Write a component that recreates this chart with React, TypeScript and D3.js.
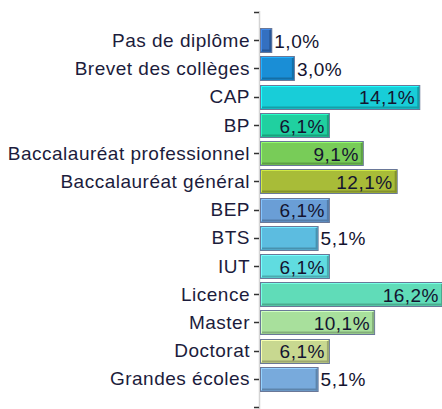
import React from "react";
import * as d3 from "d3";

const categories = [
  "Pas de diplôme",
  "Brevet des collèges",
  "CAP",
  "BP",
  "Baccalauréat professionnel",
  "Baccalauréat général",
  "BEP",
  "BTS",
  "IUT",
  "Licence",
  "Master",
  "Doctorat",
  "Grandes écoles",
];
const values = [1.0, 3.0, 14.1, 6.1, 9.1, 12.1, 6.1, 5.1, 6.1, 16.2, 10.1, 6.1, 5.1];
const colors = [
  "#3470c0", "#1a8ed6", "#18cdd8", "#20d0a0", "#78cc58", "#a8bc38", "#6a9ed6",
  "#5cbce0", "#60dce0", "#60dcb8", "#a8e09c", "#c8d890", "#78aadc",
];

const W = 442;
const H = 409;
const x0 = 260;

export default function App() {
  const x = d3.scaleLinear().domain([0, 16.2]).range([x0, 443]);
  const y = d3.scaleLinear().domain([0, categories.length + 1]).range([12, 407]);
  const bh = 24;
  const fmt = (v: number) => v.toFixed(1).replace(".", ",") + "%";
  const font = "'Liberation Sans', Arial, sans-serif";
  return (
    <svg width={W} height={H} style={{ position: "absolute", left: 0, top: 0 }}>
      <line x1={259.5} x2={259.5} y1={11} y2={H} stroke="#d4d4d4" strokeWidth={1.5} />
      {d3.range(categories.length + 2).map((i) => (
        <line key={"t" + i} x1={254} x2={259} y1={Math.round(y(i)) + 0.5} y2={Math.round(y(i)) + 0.5} stroke="#333" strokeWidth={1.5} />
      ))}
      {categories.map((c, i) => {
        const cy = y(i + 1);
        const top = Math.round(cy - bh / 2);
        const xe = x(values[i]);
        const w = xe - x0;
        const col = d3.color(colors[i])!;
        const light = col.brighter(0.6).formatHex();
        const dark = col.darker(0.7).formatHex();
        const inside = values[i] >= 6;
        return (
          <g key={c}>
            <text x={250} y={cy} dy="0.35em" textAnchor="end" fontFamily={font} fontSize={19} letterSpacing={0.5} fill="#1c1c3c">
              {c}
            </text>
            <rect x={x0 + 0.5} y={top + 0.5} width={w} height={bh} fill={colors[i]} stroke="#6a7898" strokeWidth={1} />
            <line x1={x0 + 1.5} x2={xe - 1} y1={top + 1.5} y2={top + 1.5} stroke={light} strokeWidth={1} />
            <line x1={x0 + 1.5} x2={x0 + 1.5} y1={top + 1.5} y2={top + bh - 1} stroke={light} strokeWidth={1} />
            <line x1={x0 + 2} x2={xe - 0.5} y1={top + bh - 1.5} y2={top + bh - 1.5} stroke={dark} strokeWidth={2} />
            <line x1={xe - 1} x2={xe - 1} y1={top + 2} y2={top + bh - 0.5} stroke={dark} strokeWidth={2} />
            <text
              x={inside ? xe - 4 : xe + 3}
              y={cy + 1}
              dy="0.35em"
              textAnchor={inside ? "end" : "start"}
              fontFamily={font}
              fontSize={19}
              letterSpacing={0.5}
              fill="#141430"
            >
              {fmt(values[i])}
            </text>
          </g>
        );
      })}
    </svg>
  );
}
